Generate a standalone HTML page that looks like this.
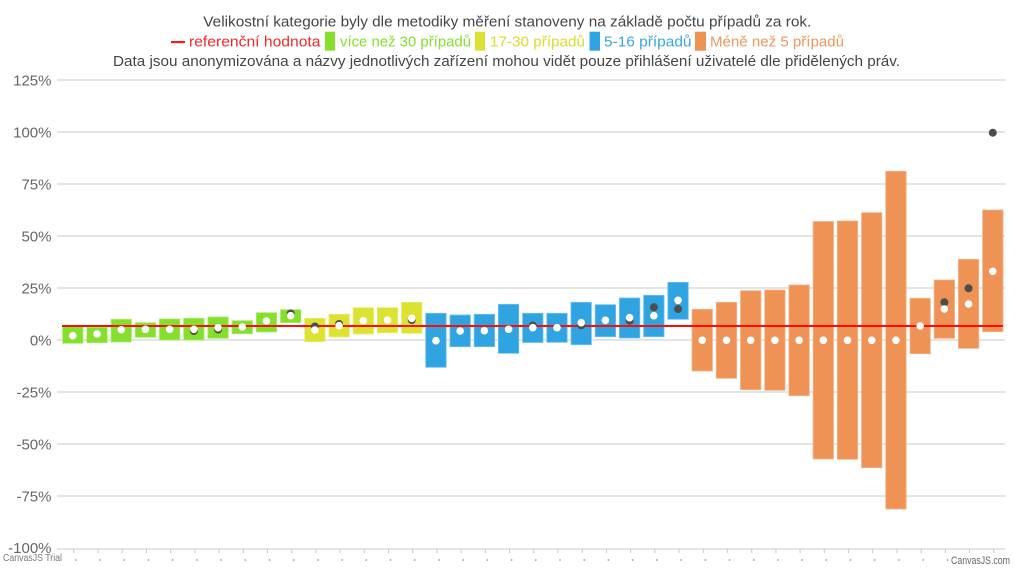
<!DOCTYPE html>
<html><head><meta charset="utf-8"><style>
html,body{margin:0;padding:0;background:#fff;width:1023px;height:585px;overflow:hidden}
svg{display:block}
text{font-family:"Liberation Sans","DejaVu Sans",sans-serif}
</style></head><body>
<svg width="1023" height="585" viewBox="0 0 1023 585" xmlns="http://www.w3.org/2000/svg">
<!-- titles -->
<text x="203.3" y="26.5" font-size="15" fill="#454545" textLength="608" lengthAdjust="spacingAndGlyphs">Velikostní kategorie byly dle metodiky měření stanoveny na základě počtu případů za rok.</text>
<rect x="171" y="41" width="14" height="2.2" fill="#f01e1e"/>
<text x="189" y="46.5" font-size="15" fill="#f02828" textLength="131.5" lengthAdjust="spacingAndGlyphs">referenční hodnota</text>
<rect x="325" y="31.7" width="10" height="19" fill="#84e02c"/>
<text x="340" y="46.5" font-size="15" fill="#84e02c" textLength="131" lengthAdjust="spacingAndGlyphs">více než 30 případů</text>
<rect x="475" y="31.7" width="10" height="19" fill="#dbe232"/>
<text x="490" y="46.5" font-size="15" fill="#d6de2e" textLength="95" lengthAdjust="spacingAndGlyphs">17-30 případů</text>
<rect x="589.5" y="31.7" width="10.5" height="19" fill="#30a4e1"/>
<text x="604" y="46.5" font-size="15" fill="#38a7e4" textLength="87.5" lengthAdjust="spacingAndGlyphs">5-16 případů</text>
<rect x="695" y="31.7" width="11" height="19" fill="#ee9255"/>
<text x="710" y="46.5" font-size="15" fill="#ef975c" textLength="134" lengthAdjust="spacingAndGlyphs">Méně než 5 případů</text>
<text x="113" y="66" font-size="15" fill="#454545" textLength="787" lengthAdjust="spacingAndGlyphs">Data jsou anonymizována a názvy jednotlivých zařízení mohou vidět pouze přihlášení uživatelé dle přidělených práv.</text>

<!-- gridlines -->
<g stroke="#dcdcdc" stroke-width="1.6">
<line x1="57" y1="80" x2="1005" y2="80"/>
<line x1="57" y1="132" x2="1005" y2="132"/>
<line x1="57" y1="184" x2="1005" y2="184"/>
<line x1="57" y1="236" x2="1005" y2="236"/>
<line x1="57" y1="288" x2="1005" y2="288"/>
<line x1="57" y1="340" x2="1005" y2="340"/>
<line x1="57" y1="392" x2="1005" y2="392"/>
<line x1="57" y1="444" x2="1005" y2="444"/>
<line x1="57" y1="496" x2="1005" y2="496"/>
<line x1="57" y1="549" x2="1005" y2="549"/>
</g>
<!-- y labels -->
<g font-size="15" fill="#666" text-anchor="end">
<text x="51.5" y="85.5">125%</text>
<text x="51.5" y="137.5">100%</text>
<text x="51.5" y="189.5">75%</text>
<text x="51.5" y="241.5">50%</text>
<text x="51.5" y="293.5">25%</text>
<text x="51.5" y="345.5">0%</text>
<text x="51.5" y="397.5">-25%</text>
<text x="51.5" y="449.5">-50%</text>
<text x="51.5" y="501.5">-75%</text>
<text x="51.5" y="553">-100%</text>
</g>
<!-- ticks -->
<path stroke="#cfcfcf" stroke-width="1.2" fill="none" d="M73.8 549v4M98 549v4M122.2 549v4M146.4 549v4M170.6 549v4M194.9 549v4M219.1 549v4M243.3 549v4M267.5 549v4M291.7 549v4M315.9 549v4M340.1 549v4M364.3 549v4M388.5 549v4M412.7 549v4M437 549v4M461.2 549v4M485.4 549v4M509.6 549v4M533.8 549v4M558 549v4M582.2 549v4M606.4 549v4M630.6 549v4M654.8 549v4M679.1 549v4M703.3 549v4M727.5 549v4M751.7 549v4M775.9 549v4M800.1 549v4M824.3 549v4M848.5 549v4M872.7 549v4M896.9 549v4M921.2 549v4M945.4 549v4M969.6 549v4M993.8 549v4"/>
<g fill="#9a9a9a">
<circle cx="75.8" cy="560" r="0.9"/><circle cx="100" cy="560" r="0.9"/><circle cx="124.2" cy="560" r="0.9"/><circle cx="148.4" cy="560" r="0.9"/><circle cx="172.6" cy="560" r="0.9"/><circle cx="196.9" cy="560" r="0.9"/><circle cx="221.1" cy="560" r="0.9"/><circle cx="245.3" cy="560" r="0.9"/><circle cx="269.5" cy="560" r="0.9"/><circle cx="293.7" cy="560" r="0.9"/><circle cx="317.9" cy="560" r="0.9"/><circle cx="342.1" cy="560" r="0.9"/><circle cx="366.3" cy="560" r="0.9"/><circle cx="390.5" cy="560" r="0.9"/><circle cx="414.7" cy="560" r="0.9"/><circle cx="439" cy="560" r="0.9"/><circle cx="463.2" cy="560" r="0.9"/><circle cx="487.4" cy="560" r="0.9"/><circle cx="511.6" cy="560" r="0.9"/><circle cx="535.8" cy="560" r="0.9"/><circle cx="560" cy="560" r="0.9"/><circle cx="584.2" cy="560" r="0.9"/><circle cx="608.4" cy="560" r="0.9"/><circle cx="632.6" cy="560" r="0.9"/><circle cx="656.8" cy="560" r="0.9"/><circle cx="681.1" cy="560" r="0.9"/><circle cx="705.3" cy="560" r="0.9"/><circle cx="729.5" cy="560" r="0.9"/><circle cx="753.7" cy="560" r="0.9"/><circle cx="777.9" cy="560" r="0.9"/><circle cx="802.1" cy="560" r="0.9"/><circle cx="826.3" cy="560" r="0.9"/><circle cx="850.5" cy="560" r="0.9"/><circle cx="874.7" cy="560" r="0.9"/><circle cx="898.9" cy="560" r="0.9"/><circle cx="923.2" cy="560" r="0.9"/><circle cx="947.4" cy="560" r="0.9"/>
</g>
<text x="3" y="561" font-size="10" fill="#7a7a7a" textLength="59" lengthAdjust="spacingAndGlyphs">CanvasJS Trial</text>
<text x="951" y="564" font-size="11" fill="#666" textLength="59" lengthAdjust="spacingAndGlyphs">CanvasJS.com</text>

<!-- bars -->
<g fill="#84e02c" stroke="#a8ec6a" stroke-width="0.8">
<rect x="62.6" y="326.7" width="20.4" height="16.6"/>
<rect x="86.81" y="327.3" width="20.4" height="15.4"/>
<rect x="111.02" y="319.3" width="20.4" height="22.7"/>
<rect x="135.23" y="322.7" width="20.4" height="14.6"/>
<rect x="159.44" y="319" width="20.4" height="21"/>
<rect x="183.65" y="318.3" width="20.4" height="21.7"/>
<rect x="207.86" y="317" width="20.4" height="21.3"/>
<rect x="232.07" y="320.7" width="20.4" height="13"/>
<rect x="256.28" y="312.7" width="20.4" height="19.3"/>
<rect x="280.49" y="309.7" width="20.4" height="13"/>
</g>
<g fill="#dbe232" stroke="#e8ee72" stroke-width="0.8">
<rect x="304.7" y="318.3" width="20.4" height="23.4"/>
<rect x="328.91" y="314.3" width="20.4" height="22.7"/>
<rect x="353.12" y="307.7" width="20.4" height="26.3"/>
<rect x="377.33" y="307.7" width="20.4" height="25"/>
<rect x="401.54" y="302.3" width="20.4" height="31"/>
</g>
<g fill="#30a4e1" stroke="#6cc0ee" stroke-width="0.8">
<rect x="425.75" y="313.3" width="20.4" height="54"/>
<rect x="449.96" y="315" width="20.4" height="31.7"/>
<rect x="474.17" y="314.3" width="20.4" height="32.4"/>
<rect x="498.38" y="304.3" width="20.4" height="49"/>
<rect x="522.59" y="313.3" width="20.4" height="29.2"/>
<rect x="546.8" y="313.3" width="20.4" height="29"/>
<rect x="571.01" y="302.3" width="20.4" height="42.4"/>
<rect x="595.22" y="304.7" width="20.4" height="32"/>
<rect x="619.43" y="298" width="20.4" height="40"/>
<rect x="643.64" y="295.3" width="20.4" height="41.4"/>
<rect x="667.85" y="282.3" width="20.4" height="37"/>
</g>
<g fill="#ee9255" stroke="#f4b48a" stroke-width="0.8">
<rect x="692.06" y="309.3" width="20.4" height="61.7"/>
<rect x="716.27" y="302.3" width="20.4" height="76"/>
<rect x="740.48" y="290.7" width="20.4" height="99"/>
<rect x="764.69" y="290" width="20.4" height="100.3"/>
<rect x="788.9" y="285" width="20.4" height="110.7"/>
<rect x="813.11" y="221.5" width="20.4" height="237.5"/>
<rect x="837.32" y="221" width="20.4" height="238.3"/>
<rect x="861.53" y="212.7" width="20.4" height="255"/>
<rect x="885.74" y="171.3" width="20.4" height="337.7"/>
<rect x="909.95" y="298.3" width="20.4" height="55.4"/>
<rect x="934.16" y="280" width="20.4" height="58.3"/>
<rect x="958.37" y="259.3" width="20.4" height="89"/>
<rect x="982.58" y="210" width="20.4" height="121.7"/>
</g>

<!-- reference line -->
<line x1="62" y1="326" x2="1003" y2="326" stroke="#ff0a0a" stroke-width="2"/>

<!-- dark dots -->
<g fill="#4d4d4d">
<circle cx="193.85" cy="331" r="4"/>
<circle cx="218.06" cy="329.5" r="4"/>
<circle cx="290.69" cy="313.5" r="4"/>
<circle cx="314.9" cy="326.5" r="4"/>
<circle cx="339.11" cy="324" r="4"/>
<circle cx="411.74" cy="320" r="4"/>
<circle cx="532.79" cy="325.5" r="4"/>
<circle cx="581.21" cy="325.3" r="4"/>
<circle cx="629.63" cy="320.7" r="4"/>
<circle cx="653.84" cy="307.3" r="4"/>
<circle cx="678.05" cy="309" r="4"/>
<circle cx="944.36" cy="302.3" r="4"/>
<circle cx="968.57" cy="288.3" r="4"/>
<circle cx="992.78" cy="132.7" r="4"/>
</g>
<!-- white dots -->
<g fill="#ffffff">
<circle cx="72.8" cy="335.7" r="3.8"/>
<circle cx="97.01" cy="334" r="3.8"/>
<circle cx="121.22" cy="329.7" r="3.8"/>
<circle cx="145.43" cy="329.3" r="3.8"/>
<circle cx="169.64" cy="329.3" r="3.8"/>
<circle cx="193.85" cy="329.3" r="3.8"/>
<circle cx="218.06" cy="327.7" r="3.8"/>
<circle cx="242.27" cy="327" r="3.8"/>
<circle cx="266.48" cy="321" r="3.8"/>
<circle cx="290.69" cy="315.7" r="3.8"/>
<circle cx="314.9" cy="330" r="3.8"/>
<circle cx="339.11" cy="325.7" r="3.8"/>
<circle cx="363.32" cy="320.7" r="3.8"/>
<circle cx="387.53" cy="320" r="3.8"/>
<circle cx="411.74" cy="318.3" r="3.8"/>
<circle cx="435.95" cy="340.7" r="3.8"/>
<circle cx="460.16" cy="331" r="3.8"/>
<circle cx="484.37" cy="330.7" r="3.8"/>
<circle cx="508.58" cy="329.3" r="3.8"/>
<circle cx="532.79" cy="327.7" r="3.8"/>
<circle cx="557" cy="327.7" r="3.8"/>
<circle cx="581.21" cy="322.7" r="3.8"/>
<circle cx="605.42" cy="320.3" r="3.8"/>
<circle cx="629.63" cy="317.7" r="3.8"/>
<circle cx="653.84" cy="315.7" r="3.8"/>
<circle cx="678.05" cy="300.3" r="3.8"/>
<circle cx="702.26" cy="340.3" r="3.8"/>
<circle cx="726.47" cy="340.3" r="3.8"/>
<circle cx="750.68" cy="340.3" r="3.8"/>
<circle cx="774.89" cy="340.3" r="3.8"/>
<circle cx="799.1" cy="340.3" r="3.8"/>
<circle cx="823.31" cy="340.3" r="3.8"/>
<circle cx="847.52" cy="340.3" r="3.8"/>
<circle cx="871.73" cy="340.3" r="3.8"/>
<circle cx="895.94" cy="340.3" r="3.8"/>
<circle cx="920.15" cy="326" r="3.8"/>
<circle cx="944.36" cy="309" r="3.8"/>
<circle cx="968.57" cy="304" r="3.8"/>
<circle cx="992.78" cy="271.3" r="3.8"/>
</g>
</svg>
</body></html>
